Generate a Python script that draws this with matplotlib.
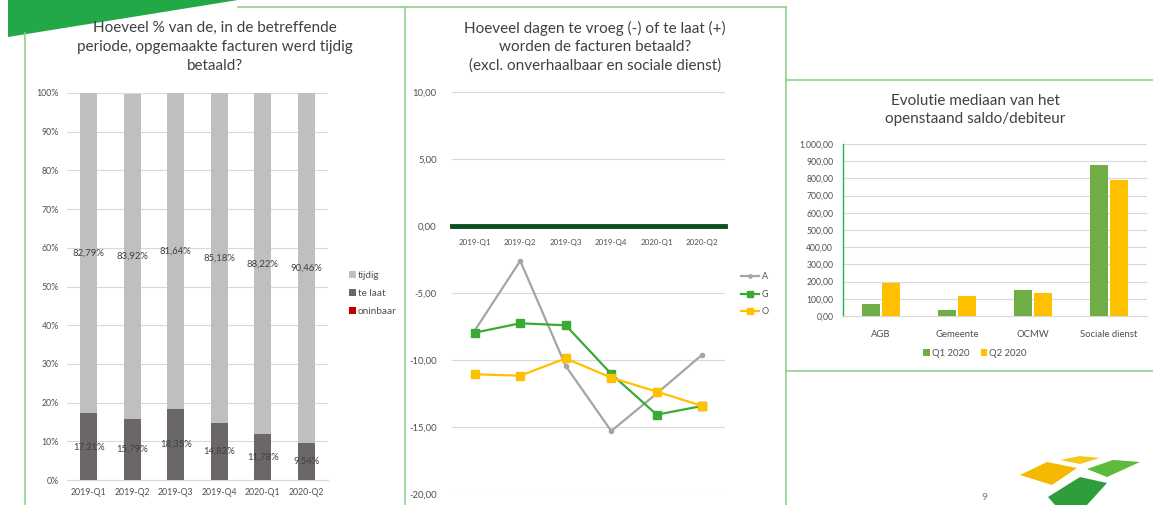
import numpy as np
import matplotlib.pyplot as plt
from matplotlib.patches import Polygon

plt.rcParams['font.family'] = ['Lato', 'DejaVu Sans']

W, H = 1153, 505

# --- data ---
kwartalen = ["2019-Q1", "2019-Q2", "2019-Q3", "2019-Q4", "2020-Q1", "2020-Q2"]
te_laat = [17.21, 15.79, 18.35, 14.82, 11.78, 9.54]
tijdig = [82.79, 83.92, 81.64, 85.18, 88.22, 90.46]
oninbaar = [0.00, 0.00, 0.00, 0.00, 0.00, 0.00]

dagen_A = [-7.8, -2.6, -10.45, -15.3, -12.5, -9.6]
dagen_G = [-7.96, -7.26, -7.41, -11.04, -14.08, -13.43]
dagen_O = [-11.07, -11.17, -9.88, -11.32, -12.36, -13.43]

entiteiten = ["AGB", "Gemeente", "OCMW", "Sociale dienst"]
mediaan_q1 = [70, 37, 150, 880]
mediaan_q2 = [194, 115, 134, 790]

TXT = "#505050"
TITLE = "#404040"
GRID = "#d9d9d9"
BORDER = "#8fd18a"


def px_axes(fig, x0, y0, x1, y1, **kw):
    return fig.add_axes([x0 / W, 1 - y1 / H, (x1 - x0) / W, (y1 - y0) / H], **kw)


def nl(v, dec=2):
    s = f"{v:,.{dec}f}"
    return s.replace(",", "X").replace(".", ",").replace("X", ".")


fig = plt.figure(figsize=(W / 100, H / 100), dpi=100)

# background / slide decoration
bg = fig.add_axes([0, 0, 1, 1], zorder=-10)
bg.set_xlim(0, W)
bg.set_ylim(H, 0)
bg.axis("off")
bg.add_patch(Polygon([(8, 0), (238, 0), (8, 37)], closed=True, color="#22a846", lw=0))
bg.plot([238, 786], [7, 7], color=BORDER, lw=1.2)
bg.plot([25, 25], [33, H], color=BORDER, lw=1.2)
bg.plot([405, 405], [7, H], color=BORDER, lw=1.2)
bg.plot([786, 786], [7, H], color=BORDER, lw=1.2)
bg.plot([786, W], [80, 80], color=BORDER, lw=1.2)
bg.plot([786, W], [371, 371], color=BORDER, lw=1.2)
# logo
bg.add_patch(Polygon([(1020, 475), (1047, 462), (1077, 468), (1052, 485)], color="#f5b800", lw=0))
bg.add_patch(Polygon([(1060, 460), (1080, 456), (1100, 458), (1080, 464)], color="#f7c81a", lw=0))
bg.add_patch(Polygon([(1087, 469), (1113, 460), (1140, 462), (1107, 477)], color="#5cbb3a", lw=0))
bg.add_patch(Polygon([(1048, 497), (1080, 477), (1107, 483), (1087, 505), (1055, 505)], color="#2e9e3c", lw=0))
bg.text(985, 497, "9", ha="center", va="center", fontsize=7.5, color="#7f7f7f")

# ---------- chart 1: stacked percentages ----------
ax1 = px_axes(fig, 67, 93, 328, 480)
x = np.arange(len(kwartalen))
bw = 0.39
b1 = ax1.bar(x, te_laat, bw, color="#6b6767", zorder=3)
b2 = ax1.bar(x, tijdig, bw, bottom=te_laat, color="#bfbfbf", zorder=3)
b3 = ax1.bar(x, oninbaar, bw, bottom=np.add(te_laat, tijdig), color="#c00000", zorder=3)
for i in range(len(x)):
    ax1.text(x[i], te_laat[i] / 2, nl(te_laat[i]) + "%", ha="center", va="center",
             fontsize=6.8, color="#404040", zorder=4)
    ax1.text(x[i], te_laat[i] + tijdig[i] / 2, nl(tijdig[i]) + "%", ha="center", va="center",
             fontsize=6.8, color="#404040", zorder=4)
ax1.set_xlim(-0.5, len(x) - 0.5)
ax1.set_ylim(0, 100)
ax1.set_yticks(range(0, 101, 10))
ax1.set_yticklabels([f"{v}%" for v in range(0, 101, 10)])
ax1.set_xticks(x)
ax1.set_xticklabels(kwartalen)
ax1.grid(axis="y", color=GRID, lw=0.8, zorder=0)
for s in ["top", "right", "left"]:
    ax1.spines[s].set_visible(False)
ax1.spines["bottom"].set_color(GRID)
ax1.tick_params(length=0, labelsize=6.3, colors=TXT, pad=6)
ax1.legend([b2, b1, b3], ["tijdig", "te laat", "oninbaar"], loc="upper left",
           bbox_to_anchor=(340 / W, 1 - 262 / H), bbox_transform=fig.transFigure,
           frameon=False, fontsize=7.2, handlelength=0.7, handleheight=0.7,
           handletextpad=0.2, labelspacing=0.9, labelcolor=TXT)
fig.text(215 / W, 1 - 47 / H,
         "Hoeveel % van de, in de betreffende\nperiode, opgemaakte facturen werd tijdig\nbetaald?",
         ha="center", va="center", fontsize=11, color=TITLE, linespacing=1.45)

# ---------- chart 2: days early / late ----------
ax2 = px_axes(fig, 452, 92, 725, 494)
ax2.plot(x, dagen_A, color="#a5a5a5", lw=1.6, marker="o", ms=3, label="A", zorder=3)
ax2.plot(x, dagen_G, color="#3aaa35", lw=1.6, marker="s", ms=5.5, label="G", zorder=4)
ax2.plot(x, dagen_O, color="#ffc000", lw=1.6, marker="s", ms=5.5, label="O", zorder=5)
ax2.set_xlim(-0.5, len(x) - 0.5)
ax2.set_ylim(-20, 10)
ax2.set_yticks(range(-20, 11, 5))
ax2.set_yticklabels([nl(v) for v in range(-20, 11, 5)])
ax2.set_xticks(x)
ax2.set_xticklabels(kwartalen)
ax2.grid(axis="y", color=GRID, lw=0.8, zorder=0)
for s in ["top", "right", "left"]:
    ax2.spines[s].set_visible(False)
ax2.spines["bottom"].set_position(("data", 0))
ax2.spines["bottom"].set_color("#0b4f22")
ax2.spines["bottom"].set_linewidth(3.5)
ax2.tick_params(length=0, colors=TXT)
ax2.tick_params(axis="x", pad=9, labelsize=5.8)
ax2.tick_params(axis="y", pad=11, labelsize=6.8)
ax2.legend(loc="upper left", bbox_to_anchor=(733 / W, 1 - 264 / H),
           bbox_transform=fig.transFigure, frameon=False, fontsize=6.5,
           handlelength=2.0, handletextpad=0.3, labelspacing=0.95, labelcolor=TXT,
           markerscale=0.8)
fig.text(595 / W, 1 - 47 / H,
         "Hoeveel dagen te vroeg (-) of te laat (+)\nworden de facturen betaald?\n(excl. onverhaalbaar en sociale dienst)",
         ha="center", va="center", fontsize=11, color=TITLE, linespacing=1.4)

# ---------- chart 3: median outstanding balance ----------
ax3 = px_axes(fig, 843, 144, 1147, 316)
xe = np.arange(len(entiteiten))
w = 0.24
ax3.bar(xe - 0.135, mediaan_q1, w, color="#70ad47", zorder=3, label="Q1 2020")
ax3.bar(xe + 0.135, mediaan_q2, w, color="#ffc000", zorder=3, label="Q2 2020")
ax3.set_xlim(-0.5, len(xe) - 0.5)
ax3.set_ylim(0, 1000)
ax3.set_yticks(range(0, 1001, 100))
ax3.set_yticklabels([nl(v) for v in range(0, 1001, 100)])
ax3.set_xticks(xe)
ax3.set_xticklabels(entiteiten)
ax3.grid(axis="y", color=GRID, lw=0.8, zorder=0)
for s in ["top", "right"]:
    ax3.spines[s].set_visible(False)
ax3.spines["left"].set_color("#22b14c")
ax3.spines["left"].set_linewidth(1.0)
ax3.spines["bottom"].set_color(GRID)
ax3.tick_params(length=0, colors=TXT)
ax3.tick_params(axis="y", labelsize=6.2, pad=7)
ax3.tick_params(axis="x", labelsize=6.8, pad=10)
ax3.legend(loc="center", bbox_to_anchor=(975 / W, 1 - 353 / H),
           bbox_transform=fig.transFigure, ncol=2, frameon=False, fontsize=6.8,
           handlelength=0.7, handleheight=0.7, handletextpad=0.2, columnspacing=1.2,
           labelcolor=TXT)
fig.text(975 / W, 1 - 110 / H, "Evolutie mediaan van het\nopenstaand saldo/debiteur",
         ha="center", va="center", fontsize=11, color=TITLE, linespacing=1.45)

plt.savefig("out.png", dpi=100)
